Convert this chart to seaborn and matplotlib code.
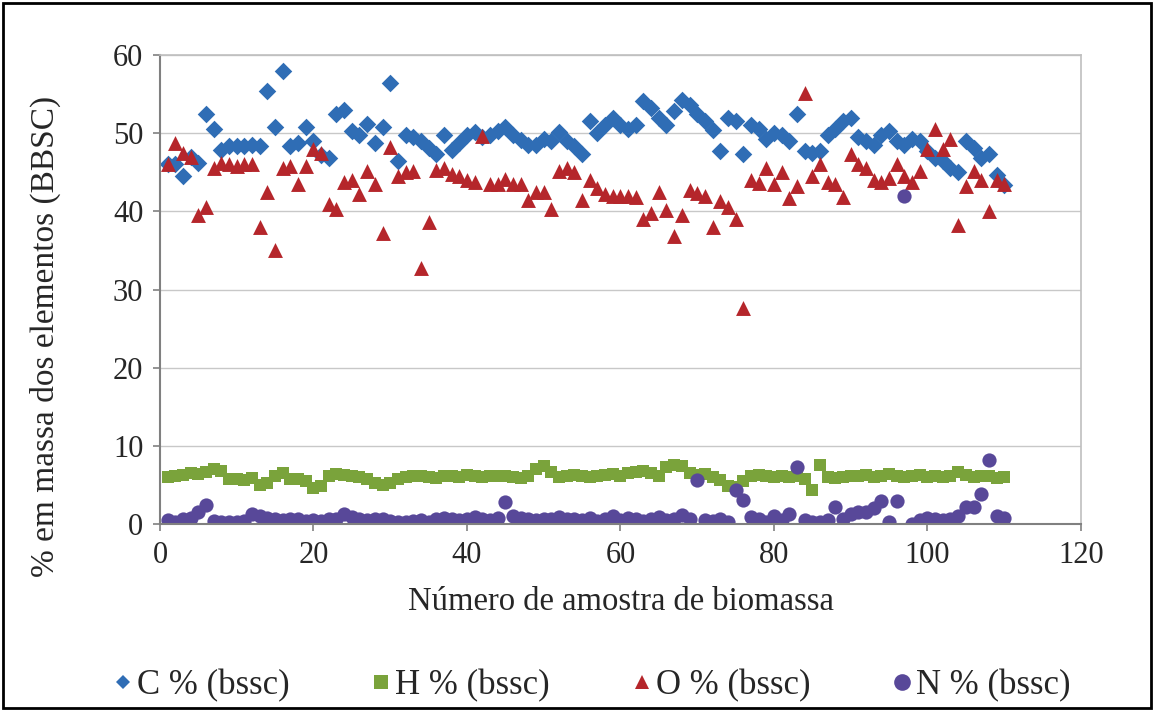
import matplotlib
matplotlib.use("Agg")
import matplotlib.pyplot as plt
import seaborn as sns
import pandas as pd
import numpy as np
from matplotlib.patches import Rectangle

samples = list(range(1, 111))

C = [46.0, 46.0, 44.5, 47.0, 46.2, 52.4, 50.6, 47.8, 48.3, 48.4,
     48.4, 48.5, 48.4, 55.4, 50.8, 57.9, 48.4, 48.8, 50.8, 49.0,
     47.2, 46.8, 52.4, 53.0, 50.3, 49.8, 51.2, 48.8, 50.8, 56.4,
     46.5, 49.8, 49.5, 49.0, 48.1, 47.4, 49.8, 47.8, 48.8, 49.8,
     50.2, 49.5, 49.8, 50.3, 50.8, 49.8, 49.1, 48.5, 48.5, 49.3,
     49.0, 50.1, 49.0, 48.3, 47.3, 51.5, 50.0, 51.1, 52.0, 51.1,
     50.6, 51.1, 54.1, 53.2, 51.9, 51.1, 52.8, 54.2, 53.6, 52.4,
     51.6, 50.4, 47.7, 51.9, 51.5, 47.3, 51.1, 50.6, 49.3, 50.0,
     49.8, 49.0, 52.4, 47.7, 47.5, 47.7, 49.8, 50.6, 51.5, 51.9,
     49.5, 49.0, 48.5, 49.8, 50.3, 49.0, 48.5, 49.3, 49.0, 47.7,
     46.8, 46.4, 45.6, 45.0, 49.0, 48.1, 46.8, 47.3, 44.7, 43.4]

H = [6.0, 6.2, 6.3, 6.5, 6.4, 6.6, 7.0, 6.8, 5.8, 5.7,
     5.6, 5.9, 5.0, 5.2, 6.2, 6.5, 5.8, 5.7, 5.5, 4.6,
     4.8, 6.2, 6.4, 6.3, 6.2, 6.0, 5.8, 5.2, 5.0, 5.3,
     5.8, 6.0, 6.2, 6.1, 6.0, 5.9, 6.1, 6.2, 6.0, 6.3,
     6.2, 6.0, 6.1, 6.2, 6.2, 6.0, 5.9, 6.1, 7.0, 7.4,
     6.6, 6.0, 6.2, 6.3, 6.1, 6.0, 6.2, 6.3, 6.4, 6.2,
     6.5, 6.6, 6.8, 6.5, 6.2, 7.3, 7.6, 7.4, 6.5, 6.3,
     6.4, 6.0, 5.6, 4.9, 4.7, 5.5, 6.2, 6.3, 6.1, 6.0,
     6.2, 6.0, 6.1, 5.8, 4.3, 7.6, 6.0, 5.9, 6.0, 6.1,
     6.2, 6.3, 6.0, 6.1, 6.4, 6.2, 6.0, 6.1, 6.3, 6.0,
     6.1, 6.0, 6.2, 6.6, 6.3, 6.0, 6.1, 6.2, 5.9, 6.0]

O = [46.0, 48.8, 47.5, 47.0, 39.5, 40.5, 45.5, 46.2, 46.0, 45.8,
     46.0, 46.0, 38.0, 42.5, 35.0, 45.5, 45.8, 43.5, 45.8, 48.0,
     47.5, 41.0, 40.3, 43.8, 44.0, 42.2, 45.2, 43.5, 37.2, 48.2,
     44.5, 45.0, 45.2, 32.8, 38.7, 45.3, 45.5, 44.8, 44.5, 44.0,
     43.8, 49.6, 43.5, 43.5, 44.2, 43.5, 43.5, 41.4, 42.5, 42.5,
     40.3, 45.2, 45.5, 45.0, 41.5, 44.0, 43.0, 42.2, 42.0, 42.0,
     42.0, 41.8, 39.0, 39.8, 42.5, 40.2, 36.9, 39.5, 42.7, 42.3,
     42.0, 38.0, 41.3, 40.5, 39.0, 27.6, 44.0, 43.6, 45.6, 43.5,
     45.0, 41.7, 43.3, 55.2, 44.5, 46.0, 43.8, 43.5, 41.8, 47.3,
     46.0, 45.6, 44.0, 43.8, 44.3, 46.0, 44.5, 43.8, 45.2, 48.0,
     50.5, 48.0, 49.2, 38.3, 43.2, 45.2, 44.0, 40.0, 44.0, 43.5]

N = [0.5, 0.3, 0.6, 0.8, 1.5, 2.4, 0.4, 0.3, 0.2, 0.3,
     0.4, 1.3, 1.0, 0.8, 0.6, 0.5, 0.7, 0.6, 0.4, 0.5,
     0.4, 0.6, 0.7, 1.3, 0.9, 0.6, 0.5, 0.7, 0.6, 0.4,
     0.3, 0.2, 0.4, 0.5, 0.3, 0.6, 0.8, 0.7, 0.5, 0.6,
     0.9, 0.6, 0.5, 0.8, 2.8, 1.0, 0.8, 0.6, 0.5, 0.7,
     0.6, 0.9, 0.6, 0.7, 0.5, 0.8, 0.4, 0.6, 1.0, 0.5,
     0.8, 0.6, 0.4, 0.7, 0.9, 0.5, 0.7, 1.2, 0.6, 5.6,
     0.5, 0.4, 0.6, 0.3, 4.4, 3.1, 0.9, 0.6, 0.3, 1.0,
     0.5, 1.3, 7.3, 0.5, 0.3, 0.2, 0.5, 2.2, 0.6, 1.3,
     1.5, 1.5, 2.0, 3.0, 0.2, 3.0, 42.0, 0.0, 0.5, 0.8,
     0.7, 0.5, 0.6, 1.0, 2.2, 2.2, 3.8, 8.2, 1.0, 0.8]

series_labels = ["C % (bssc)", "H % (bssc)", "O % (bssc)", "N % (bssc)"]
x_ticks = [0, 20, 40, 60, 80, 100, 120]
y_ticks = [0, 10, 20, 30, 40, 50, 60]
x_label = "Número de amostra de biomassa"
y_label = "% em massa dos elementos (BBSC)"

sns.set_theme(style="white")
plt.rcParams['font.family'] = ['Liberation Serif', 'DejaVu Serif']

fig = plt.figure(figsize=(11.54, 7.11), dpi=100)
ax = fig.add_axes([0.1386, 0.263, 0.7981, 0.6596])

colors = ["#2F6DB5", "#7AA33B", "#B5262B", "#584899"]
markers = ["D", "s", "^", "o"]
sizes = [80, 80, 115, 105]
values = [C, H, O, N]

for lab, vals, col, mk, sz in zip(series_labels, values, colors, markers, sizes):
    df = pd.DataFrame({"x": samples, "y": vals})
    sns.scatterplot(data=df, x="x", y="y", ax=ax, color=col, marker=mk, s=sz,
                    linewidth=0, label=lab, legend=False)

ax.set_xlim(0, 120)
ax.set_ylim(0, 60)
ax.set_xticks(x_ticks)
ax.set_yticks(y_ticks)
ax.yaxis.grid(True, color="#C8C8C8", linewidth=1.0)
ax.set_axisbelow(True)
for side in ["top", "right"]:
    ax.spines[side].set_color("#BFBFBF")
    ax.spines[side].set_linewidth(1.2)
for side in ["left", "bottom"]:
    ax.spines[side].set_color("#808080")
    ax.spines[side].set_linewidth(1.5)
ax.tick_params(axis="both", which="major", direction="out", length=5, width=1.2,
               color="#808080", labelsize=22, pad=7, bottom=True, left=True)
ax.set_xlabel(x_label, fontsize=23.5, labelpad=12)
ax.set_ylabel(y_label, fontsize=24)
ax.yaxis.set_label_coords(-0.1075, 0.40)

handles = [plt.Line2D([], [], linestyle="none", marker=mk, color=col,
                      markersize=ms, markeredgewidth=0)
           for mk, col, ms in zip(markers, colors, [7, 10, 10, 12])]
fig.legend(handles, series_labels, loc="center", bbox_to_anchor=(0.511, 0.036),
           ncol=4, frameon=False, fontsize=25, handletextpad=0.0,
           columnspacing=2.25, handlelength=0.8)

fig.patches.append(Rectangle((0.003, 0.004), 0.994, 0.992, transform=fig.transFigure,
                             fill=False, edgecolor="black", linewidth=2))

fig.savefig("out.png", dpi=100)
